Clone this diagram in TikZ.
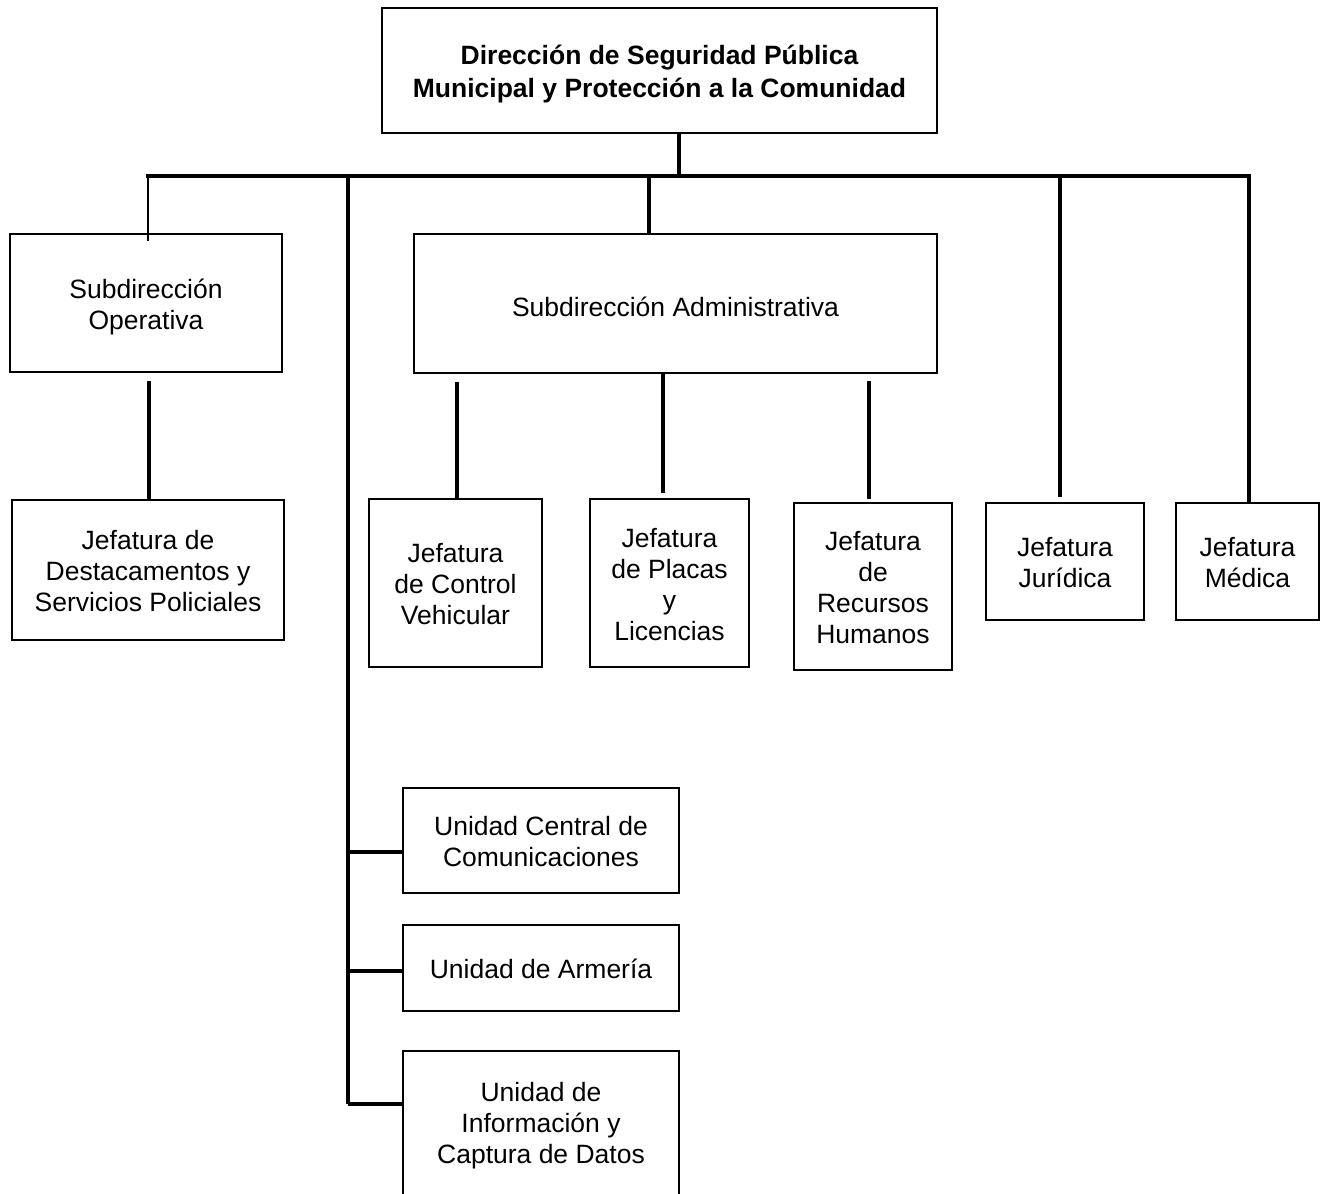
\documentclass[tikz,border=0pt]{standalone}
\usepackage{fontspec}
\setmainfont{Liberation Sans}
\usetikzlibrary{calc}
\newcommand{\lift}[1]{\rule{0pt}{#1pt}}
\begin{document}
\begin{tikzpicture}[x=1pt,y=-1pt,
  bx/.style={draw, line width=1.6pt, inner sep=0pt, align=center,
    font=\fontsize{26.5}{31}\selectfont},
  thickline/.style={line width=4pt},
  thinline/.style={line width=2pt}]
\useasboundingbox (0,0) rectangle (1329,1193);
% boxes
\node[bx, minimum width=555pt, minimum height=125pt,
  font=\fontsize{26.5}{33}\selectfont\bfseries] (top) at (659.5,70.5)
  {\lift{27}Dirección de Seguridad Pública\\Municipal y Protección a la Comunidad};
\node[bx, minimum width=272pt, minimum height=138pt] (so) at (146,303) {\lift{28}Subdirección\\Operativa};
\node[bx, minimum width=272pt, minimum height=140pt] (jd) at (148,570) {\lift{22}Jefatura de\\Destacamentos y\\Servicios Policiales};
\node[bx, minimum width=523pt, minimum height=139pt] (sa) at (675.5,303.5) {\lift{26}Subdirección Administrativa};
\node[bx, minimum width=173pt, minimum height=168pt] (cv) at (455.5,583) {\lift{22}Jefatura\\de Control\\Vehicular};
\node[bx, minimum width=159pt, minimum height=168pt] (pl) at (669.5,583) {\lift{23}Jefatura\\de Placas\\y\\Licencias};
\node[bx, minimum width=158pt, minimum height=167pt] (rh) at (873,586.5) {\lift{22}Jefatura\\de\\Recursos\\Humanos};
\node[bx, minimum width=158pt, minimum height=117pt] (ju) at (1065,561.5) {\lift{22}Jefatura\\Jurídica};
\node[bx, minimum width=143pt, minimum height=117pt] (me) at (1247.5,561.5) {\lift{22}Jefatura\\Médica};
\node[bx, minimum width=276pt, minimum height=105pt] (uc) at (541,840.5) {\lift{22}Unidad Central de\\Comunicaciones};
\node[bx, minimum width=276pt, minimum height=86pt] (ar) at (541,968) {\lift{22}Unidad de Armería};
\node[bx, minimum width=276pt, minimum height=146pt] (ic) at (541,1124) {\lift{22}Unidad de\\Información y\\Captura de Datos};
% bus coordinates
\coordinate (bTop) at (679,176);
\coordinate (bL) at (148,176);
\coordinate (bV) at (348,176);
\coordinate (bA) at (649,176);
\coordinate (bJ) at (1060,176);
\coordinate (bR) at (1249,176);
\coordinate (vEnd) at (348,1104);
\coordinate (v1) at (348,852);
\coordinate (v2) at (348,971);
\coordinate (v3) at (348,1104);
\coordinate (xo) at (149,0);
\coordinate (x1) at (457,0);
\coordinate (x2) at (663,0);
\coordinate (x3) at (869,0);
% connectors
\draw[thickline] (top.south -| bTop) -- (bTop);
\draw[thickline, line cap=rect] (bL) -- (bR);
\draw[thinline] (bL) -- ($(so.north -| bL)+(0,8)$);
\draw[thickline] (bV) -- (vEnd);
\draw[thickline] (bA) -- (sa.north -| bA);
\draw[thickline] (bJ) -- ($(ju.north -| bJ)+(0,-5)$);
\draw[thickline] (bR) -- (me.north -| bR);
\draw[thickline] ($(so.south -| xo)+(0,8)$) -- (jd.north -| xo);
\draw[thickline] ($(sa.south -| x1)+(0,8)$) -- (cv.north -| x1);
\draw[thickline] (sa.south -| x2) -- ($(pl.north -| x2)+(0,-5)$);
\draw[thickline] ($(sa.south -| x3)+(0,7)$) -- ($(rh.north -| x3)+(0,-3)$);
\draw[thickline] (v1) -- (v1 -| uc.west);
\draw[thickline] (v2) -- (v2 -| ar.west);
\draw[thickline] (v3) -- (v3 -| ic.west);
\end{tikzpicture}
\end{document}
